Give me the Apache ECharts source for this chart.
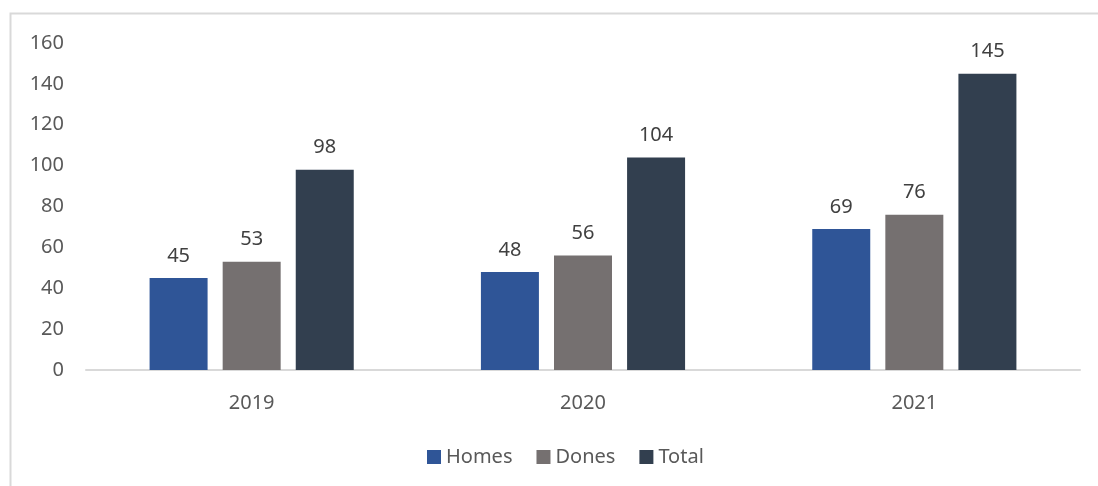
<!DOCTYPE html>
<html><head><meta charset="utf-8">
<script src="https://cdn.jsdelivr.net/npm/echarts@6/dist/echarts.min.js"></script>
<style>html,body{margin:0;padding:0;background:#fff}#c{width:1098px;height:486px}</style>
</head><body><div id="c"></div>
<script>
const categories = ['2019', '2020', '2021'];
const homes = [45, 48, 69];
const dones = [53, 56, 76];
const total = [98, 104, 145];
const seriesNames = ['Homes', 'Dones', 'Total'];

const chart = echarts.init(document.getElementById('c'));
const font = 'Noto Sans';
const lbl = {show: true, position: 'top', distance: 12, color: '#404040', fontSize: 20, fontFamily: font};
chart.setOption({
  animation: false,
  graphic: [{type: 'rect', shape: {x: 10.5, y: 13.5, width: 1100, height: 500}, style: {fill: 'none', stroke: '#D9D9D9', lineWidth: 2}, silent: true}],
  grid: {left: 86, right: 18, top: 43, bottom: 116},
  legend: {bottom: 14, left: 422, itemWidth: 14, itemHeight: 14, itemGap: 24, icon: 'rect',
    textStyle: {color: '#595959', fontSize: 20, fontFamily: font}, data: seriesNames},
  xAxis: {type: 'category', data: categories,
    axisLine: {lineStyle: {color: '#D9D9D9', width: 2}}, axisTick: {show: false},
    axisLabel: {color: '#595959', fontSize: 20, fontFamily: font, margin: 23}},
  yAxis: {type: 'value', min: 0, max: 160, interval: 20,
    axisLine: {show: false}, axisTick: {show: false}, splitLine: {show: false},
    axisLabel: {color: '#595959', fontSize: 20, fontFamily: font, margin: 22}},
  series: [
    {name: seriesNames[0], type: 'bar', data: homes, itemStyle: {color: '#2F5597'}, label: lbl, barWidth: 58, barGap: '26%'},
    {name: seriesNames[1], type: 'bar', data: dones, itemStyle: {color: '#757070'}, label: lbl, barWidth: 58, barGap: '26%'},
    {name: seriesNames[2], type: 'bar', data: total, itemStyle: {color: '#323F4F'}, label: lbl, barWidth: 58, barGap: '26%'}
  ]
});
</script></body></html>
